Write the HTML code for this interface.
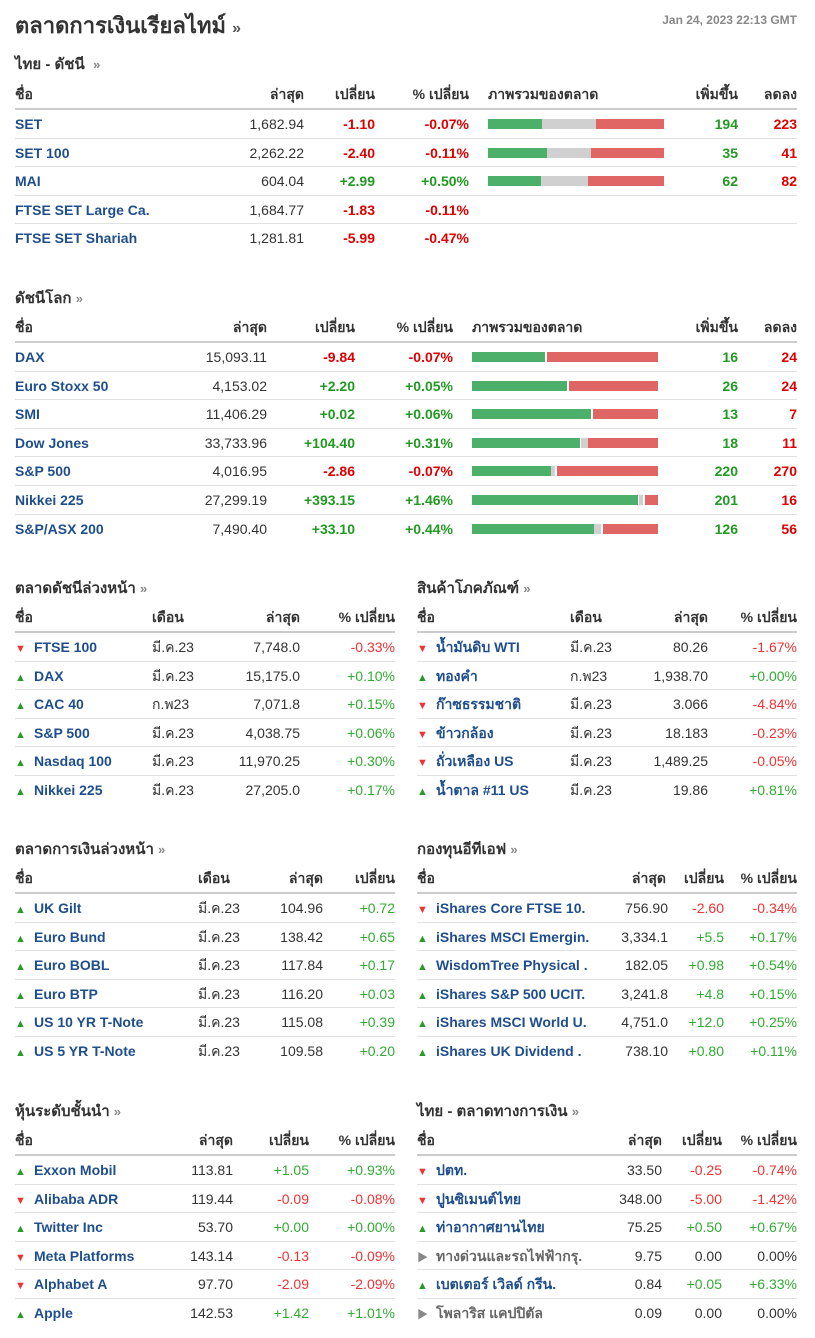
<!DOCTYPE html>
<html><head><meta charset="utf-8">
<style>
*{margin:0;padding:0;box-sizing:border-box}
body{width:815px;height:1338px;background:#fff;font-family:"Liberation Sans","Noto Sans CJK SC",sans-serif;color:#333;position:relative;overflow:hidden;font-size:14px}
.a{position:absolute;white-space:nowrap}
.t{position:absolute}
.h{position:relative;height:30px;line-height:28px;border-bottom:2px solid #ccc;font-weight:bold;color:#333;font-size:14px}
.row{position:relative;height:28.6px;line-height:28px;border-bottom:1px solid #e2e2e2}
.row:last-child{border-bottom:none}
.c{position:absolute;top:0;white-space:nowrap}
.n{left:0;font-weight:bold;color:#1f4e8c}
.ni{left:0;font-weight:bold;color:#1f4e8c}
.ni i{font-style:normal;display:inline-block;width:19px;font-size:11px}
.up{color:#2a9a2a}.dn{color:#e33}.fl{color:#888}
.R{color:#dd0000;font-weight:bold}.G{color:#229922;font-weight:bold}
.rg{color:#e33}.gg{color:#3a3}
.bar{position:absolute;top:9px;height:10px}
.sec{position:absolute;font-weight:bold;font-size:15px;color:#333}
.sec span{color:#888;font-size:13px}
</style></head><body>
<div class="a" style="left:15px;top:8px;font-size:22px;font-weight:bold;color:#333">ตลาดการเงินเรียลไทม์ <span style="font-size:16px;color:#555">»</span></div>
<div class="a" style="right:18px;top:13px;font-size:12px;font-weight:bold;color:#888">Jan 24, 2023 22:13 GMT</div>

<div class="sec" style="left:15px;top:52px">ไทย - ดัชนี &nbsp;<span>»</span></div>
<div class="t" style="left:15px;top:80px;width:782px">
<div class="h"><span class="c" style="left:0">ชื่อ</span><span class="c" style="right:493px">ล่าสุด</span><span class="c" style="right:422px">เปลี่ยน</span><span class="c" style="right:328px">% เปลี่ยน</span><span class="c" style="left:473px">ภาพรวมของตลาด</span><span class="c" style="right:59px">เพิ่มขึ้น</span><span class="c" style="right:0">ลดลง</span></div>
<div class="row"><span class="c n">SET</span><span class="c" style="right:493px">1,682.94</span><span class="c R" style="right:422px">-1.10</span><span class="c R" style="right:328px">-0.07%</span><div class="bar" style="left:473px;width:54px;background:#4caf6a"></div><div class="bar" style="left:527px;width:54px;background:#d0d0d0"></div><div class="bar" style="left:581px;width:68px;background:#e06666"></div><span class="c G" style="right:59px">194</span><span class="c R" style="right:0">223</span></div>
<div class="row"><span class="c n">SET 100</span><span class="c" style="right:493px">2,262.22</span><span class="c R" style="right:422px">-2.40</span><span class="c R" style="right:328px">-0.11%</span><div class="bar" style="left:473px;width:59px;background:#4caf6a"></div><div class="bar" style="left:532px;width:44px;background:#d0d0d0"></div><div class="bar" style="left:576px;width:73px;background:#e06666"></div><span class="c G" style="right:59px">35</span><span class="c R" style="right:0">41</span></div>
<div class="row"><span class="c n">MAI</span><span class="c" style="right:493px">604.04</span><span class="c G" style="right:422px">+2.99</span><span class="c G" style="right:328px">+0.50%</span><div class="bar" style="left:473px;width:53px;background:#4caf6a"></div><div class="bar" style="left:526px;width:47px;background:#d0d0d0"></div><div class="bar" style="left:573px;width:76px;background:#e06666"></div><span class="c G" style="right:59px">62</span><span class="c R" style="right:0">82</span></div>
<div class="row"><span class="c n">FTSE SET Large Ca.</span><span class="c" style="right:493px">1,684.77</span><span class="c R" style="right:422px">-1.83</span><span class="c R" style="right:328px">-0.11%</span></div>
<div class="row"><span class="c n">FTSE SET Shariah</span><span class="c" style="right:493px">1,281.81</span><span class="c R" style="right:422px">-5.99</span><span class="c R" style="right:328px">-0.47%</span></div>
</div>

<div class="sec" style="left:15px;top:286px">ดัชนีโลก <span>»</span></div>
<div class="t" style="left:15px;top:313px;width:782px">
<div class="h"><span class="c" style="left:0">ชื่อ</span><span class="c" style="right:530px">ล่าสุด</span><span class="c" style="right:442px">เปลี่ยน</span><span class="c" style="right:344px">% เปลี่ยน</span><span class="c" style="left:457px">ภาพรวมของตลาด</span><span class="c" style="right:59px">เพิ่มขึ้น</span><span class="c" style="right:0">ลดลง</span></div>
<div class="row"><span class="c n">DAX</span><span class="c" style="right:530px">15,093.11</span><span class="c R" style="right:442px">-9.84</span><span class="c R" style="right:344px">-0.07%</span><div class="bar" style="left:457px;width:73px;background:#4caf6a"></div><div class="bar" style="left:532px;width:111px;background:#e06666"></div><span class="c G" style="right:59px">16</span><span class="c R" style="right:0">24</span></div>
<div class="row"><span class="c n">Euro Stoxx 50</span><span class="c" style="right:530px">4,153.02</span><span class="c G" style="right:442px">+2.20</span><span class="c G" style="right:344px">+0.05%</span><div class="bar" style="left:457px;width:95px;background:#4caf6a"></div><div class="bar" style="left:554px;width:89px;background:#e06666"></div><span class="c G" style="right:59px">26</span><span class="c R" style="right:0">24</span></div>
<div class="row"><span class="c n">SMI</span><span class="c" style="right:530px">11,406.29</span><span class="c G" style="right:442px">+0.02</span><span class="c G" style="right:344px">+0.06%</span><div class="bar" style="left:457px;width:119px;background:#4caf6a"></div><div class="bar" style="left:578px;width:65px;background:#e06666"></div><span class="c G" style="right:59px">13</span><span class="c R" style="right:0">7</span></div>
<div class="row"><span class="c n">Dow Jones</span><span class="c" style="right:530px">33,733.96</span><span class="c G" style="right:442px">+104.40</span><span class="c G" style="right:344px">+0.31%</span><div class="bar" style="left:457px;width:108px;background:#4caf6a"></div><div class="bar" style="left:566px;width:7px;background:#d0d0d0"></div><div class="bar" style="left:573px;width:70px;background:#e06666"></div><span class="c G" style="right:59px">18</span><span class="c R" style="right:0">11</span></div>
<div class="row"><span class="c n">S&amp;P 500</span><span class="c" style="right:530px">4,016.95</span><span class="c R" style="right:442px">-2.86</span><span class="c R" style="right:344px">-0.07%</span><div class="bar" style="left:457px;width:79px;background:#4caf6a"></div><div class="bar" style="left:536px;width:4px;background:#d0d0d0"></div><div class="bar" style="left:542px;width:101px;background:#e06666"></div><span class="c G" style="right:59px">220</span><span class="c R" style="right:0">270</span></div>
<div class="row"><span class="c n">Nikkei 225</span><span class="c" style="right:530px">27,299.19</span><span class="c G" style="right:442px">+393.15</span><span class="c G" style="right:344px">+1.46%</span><div class="bar" style="left:457px;width:166px;background:#4caf6a"></div><div class="bar" style="left:624px;width:4px;background:#d0d0d0"></div><div class="bar" style="left:630px;width:13px;background:#e06666"></div><span class="c G" style="right:59px">201</span><span class="c R" style="right:0">16</span></div>
<div class="row"><span class="c n">S&amp;P/ASX 200</span><span class="c" style="right:530px">7,490.40</span><span class="c G" style="right:442px">+33.10</span><span class="c G" style="right:344px">+0.44%</span><div class="bar" style="left:457px;width:122px;background:#4caf6a"></div><div class="bar" style="left:579px;width:7px;background:#d0d0d0"></div><div class="bar" style="left:588px;width:55px;background:#e06666"></div><span class="c G" style="right:59px">126</span><span class="c R" style="right:0">56</span></div>
</div>

<div class="sec" style="left:15px;top:576px">ตลาดดัชนีล่วงหน้า <span>»</span></div>
<div class="t" style="left:15px;top:603px;width:380px">
<div class="h"><span class="c" style="left:0">ชื่อ</span><span class="c" style="left:137px">เดือน</span><span class="c" style="right:95px">ล่าสุด</span><span class="c" style="right:0">% เปลี่ยน</span></div>
<div class="row"><span class="c ni"><i class="dn">▼</i>FTSE 100</span><span class="c" style="left:137px">มี.ค.23</span><span class="c" style="right:95px">7,748.0</span><span class="c rg" style="right:0">-0.33%</span></div>
<div class="row"><span class="c ni"><i class="up">▲</i>DAX</span><span class="c" style="left:137px">มี.ค.23</span><span class="c" style="right:95px">15,175.0</span><span class="c gg" style="right:0">+0.10%</span></div>
<div class="row"><span class="c ni"><i class="up">▲</i>CAC 40</span><span class="c" style="left:137px">ก.พ23</span><span class="c" style="right:95px">7,071.8</span><span class="c gg" style="right:0">+0.15%</span></div>
<div class="row"><span class="c ni"><i class="up">▲</i>S&amp;P 500</span><span class="c" style="left:137px">มี.ค.23</span><span class="c" style="right:95px">4,038.75</span><span class="c gg" style="right:0">+0.06%</span></div>
<div class="row"><span class="c ni"><i class="up">▲</i>Nasdaq 100</span><span class="c" style="left:137px">มี.ค.23</span><span class="c" style="right:95px">11,970.25</span><span class="c gg" style="right:0">+0.30%</span></div>
<div class="row"><span class="c ni"><i class="up">▲</i>Nikkei 225</span><span class="c" style="left:137px">มี.ค.23</span><span class="c" style="right:95px">27,205.0</span><span class="c gg" style="right:0">+0.17%</span></div>
</div>

<div class="sec" style="left:417px;top:576px">สินค้าโภคภัณฑ์ <span>»</span></div>
<div class="t" style="left:417px;top:603px;width:380px">
<div class="h"><span class="c" style="left:0">ชื่อ</span><span class="c" style="left:153px">เดือน</span><span class="c" style="right:89px">ล่าสุด</span><span class="c" style="right:0">% เปลี่ยน</span></div>
<div class="row"><span class="c ni"><i class="dn">▼</i>น้ำมันดิบ WTI</span><span class="c" style="left:153px">มี.ค.23</span><span class="c" style="right:89px">80.26</span><span class="c rg" style="right:0">-1.67%</span></div>
<div class="row"><span class="c ni"><i class="up">▲</i>ทองคำ</span><span class="c" style="left:153px">ก.พ23</span><span class="c" style="right:89px">1,938.70</span><span class="c gg" style="right:0">+0.00%</span></div>
<div class="row"><span class="c ni"><i class="dn">▼</i>ก๊าซธรรมชาติ</span><span class="c" style="left:153px">มี.ค.23</span><span class="c" style="right:89px">3.066</span><span class="c rg" style="right:0">-4.84%</span></div>
<div class="row"><span class="c ni"><i class="dn">▼</i>ข้าวกล้อง</span><span class="c" style="left:153px">มี.ค.23</span><span class="c" style="right:89px">18.183</span><span class="c rg" style="right:0">-0.23%</span></div>
<div class="row"><span class="c ni"><i class="dn">▼</i>ถั่วเหลือง US</span><span class="c" style="left:153px">มี.ค.23</span><span class="c" style="right:89px">1,489.25</span><span class="c rg" style="right:0">-0.05%</span></div>
<div class="row"><span class="c ni"><i class="up">▲</i>น้ำตาล #11 US</span><span class="c" style="left:153px">มี.ค.23</span><span class="c" style="right:89px">19.86</span><span class="c gg" style="right:0">+0.81%</span></div>
</div>

<div class="sec" style="left:15px;top:837px">ตลาดการเงินล่วงหน้า <span>»</span></div>
<div class="t" style="left:15px;top:864px;width:380px">
<div class="h"><span class="c" style="left:0">ชื่อ</span><span class="c" style="left:183px">เดือน</span><span class="c" style="right:72px">ล่าสุด</span><span class="c" style="right:0">เปลี่ยน</span></div>
<div class="row"><span class="c ni"><i class="up">▲</i>UK Gilt</span><span class="c" style="left:183px">มี.ค.23</span><span class="c" style="right:72px">104.96</span><span class="c gg" style="right:0">+0.72</span></div>
<div class="row"><span class="c ni"><i class="up">▲</i>Euro Bund</span><span class="c" style="left:183px">มี.ค.23</span><span class="c" style="right:72px">138.42</span><span class="c gg" style="right:0">+0.65</span></div>
<div class="row"><span class="c ni"><i class="up">▲</i>Euro BOBL</span><span class="c" style="left:183px">มี.ค.23</span><span class="c" style="right:72px">117.84</span><span class="c gg" style="right:0">+0.17</span></div>
<div class="row"><span class="c ni"><i class="up">▲</i>Euro BTP</span><span class="c" style="left:183px">มี.ค.23</span><span class="c" style="right:72px">116.20</span><span class="c gg" style="right:0">+0.03</span></div>
<div class="row"><span class="c ni"><i class="up">▲</i>US 10 YR T-Note</span><span class="c" style="left:183px">มี.ค.23</span><span class="c" style="right:72px">115.08</span><span class="c gg" style="right:0">+0.39</span></div>
<div class="row"><span class="c ni"><i class="up">▲</i>US 5 YR T-Note</span><span class="c" style="left:183px">มี.ค.23</span><span class="c" style="right:72px">109.58</span><span class="c gg" style="right:0">+0.20</span></div>
</div>

<div class="sec" style="left:417px;top:837px">กองทุนอีทีเอฟ <span>»</span></div>
<div class="t" style="left:417px;top:864px;width:380px">
<div class="h"><span class="c" style="left:0">ชื่อ</span><span class="c" style="right:131px">ล่าสุด</span><span class="c" style="right:73px">เปลี่ยน</span><span class="c" style="right:0">% เปลี่ยน</span></div>
<div class="row"><span class="c ni"><i class="dn">▼</i>iShares Core FTSE 10.</span><span class="c" style="right:129px">756.90</span><span class="c rg" style="right:73px">-2.60</span><span class="c rg" style="right:0">-0.34%</span></div>
<div class="row"><span class="c ni"><i class="up">▲</i>iShares MSCI Emergin.</span><span class="c" style="right:129px">3,334.1</span><span class="c gg" style="right:73px">+5.5</span><span class="c gg" style="right:0">+0.17%</span></div>
<div class="row"><span class="c ni"><i class="up">▲</i>WisdomTree Physical .</span><span class="c" style="right:129px">182.05</span><span class="c gg" style="right:73px">+0.98</span><span class="c gg" style="right:0">+0.54%</span></div>
<div class="row"><span class="c ni"><i class="up">▲</i>iShares S&amp;P 500 UCIT.</span><span class="c" style="right:129px">3,241.8</span><span class="c gg" style="right:73px">+4.8</span><span class="c gg" style="right:0">+0.15%</span></div>
<div class="row"><span class="c ni"><i class="up">▲</i>iShares MSCI World U.</span><span class="c" style="right:129px">4,751.0</span><span class="c gg" style="right:73px">+12.0</span><span class="c gg" style="right:0">+0.25%</span></div>
<div class="row"><span class="c ni"><i class="up">▲</i>iShares UK Dividend .</span><span class="c" style="right:129px">738.10</span><span class="c gg" style="right:73px">+0.80</span><span class="c gg" style="right:0">+0.11%</span></div>
</div>

<div class="sec" style="left:15px;top:1099px">หุ้นระดับชั้นนำ <span>»</span></div>
<div class="t" style="left:15px;top:1126px;width:380px">
<div class="h"><span class="c" style="left:0">ชื่อ</span><span class="c" style="right:162px">ล่าสุด</span><span class="c" style="right:86px">เปลี่ยน</span><span class="c" style="right:0">% เปลี่ยน</span></div>
<div class="row"><span class="c ni"><i class="up">▲</i>Exxon Mobil</span><span class="c" style="right:162px">113.81</span><span class="c gg" style="right:86px">+1.05</span><span class="c gg" style="right:0">+0.93%</span></div>
<div class="row"><span class="c ni"><i class="dn">▼</i>Alibaba ADR</span><span class="c" style="right:162px">119.44</span><span class="c rg" style="right:86px">-0.09</span><span class="c rg" style="right:0">-0.08%</span></div>
<div class="row"><span class="c ni"><i class="up">▲</i>Twitter Inc</span><span class="c" style="right:162px">53.70</span><span class="c gg" style="right:86px">+0.00</span><span class="c gg" style="right:0">+0.00%</span></div>
<div class="row"><span class="c ni"><i class="dn">▼</i>Meta Platforms</span><span class="c" style="right:162px">143.14</span><span class="c rg" style="right:86px">-0.13</span><span class="c rg" style="right:0">-0.09%</span></div>
<div class="row"><span class="c ni"><i class="dn">▼</i>Alphabet A</span><span class="c" style="right:162px">97.70</span><span class="c rg" style="right:86px">-2.09</span><span class="c rg" style="right:0">-2.09%</span></div>
<div class="row"><span class="c ni"><i class="up">▲</i>Apple</span><span class="c" style="right:162px">142.53</span><span class="c gg" style="right:86px">+1.42</span><span class="c gg" style="right:0">+1.01%</span></div>
</div>

<div class="sec" style="left:417px;top:1099px">ไทย - ตลาดทางการเงิน <span>»</span></div>
<div class="t" style="left:417px;top:1126px;width:380px">
<div class="h"><span class="c" style="left:0">ชื่อ</span><span class="c" style="right:135px">ล่าสุด</span><span class="c" style="right:75px">เปลี่ยน</span><span class="c" style="right:0">% เปลี่ยน</span></div>
<div class="row"><span class="c ni"><i class="dn">▼</i>ปตท.</span><span class="c" style="right:135px">33.50</span><span class="c rg" style="right:75px">-0.25</span><span class="c rg" style="right:0">-0.74%</span></div>
<div class="row"><span class="c ni"><i class="dn">▼</i>ปูนซิเมนต์ไทย</span><span class="c" style="right:135px">348.00</span><span class="c rg" style="right:75px">-5.00</span><span class="c rg" style="right:0">-1.42%</span></div>
<div class="row"><span class="c ni"><i class="up">▲</i>ท่าอากาศยานไทย</span><span class="c" style="right:135px">75.25</span><span class="c gg" style="right:75px">+0.50</span><span class="c gg" style="right:0">+0.67%</span></div>
<div class="row"><span class="c ni" style="color:#666"><i class="fl">▶</i>ทางด่วนและรถไฟฟ้ากรุ.</span><span class="c" style="right:135px">9.75</span><span class="c" style="right:75px">0.00</span><span class="c" style="right:0">0.00%</span></div>
<div class="row"><span class="c ni"><i class="up">▲</i>เบตเตอร์ เวิลด์ กรีน.</span><span class="c" style="right:135px">0.84</span><span class="c gg" style="right:75px">+0.05</span><span class="c gg" style="right:0">+6.33%</span></div>
<div class="row"><span class="c ni" style="color:#666"><i class="fl">▶</i>โพลาริส แคปปิตัล</span><span class="c" style="right:135px">0.09</span><span class="c" style="right:75px">0.00</span><span class="c" style="right:0">0.00%</span></div>
</div>
</body></html>
